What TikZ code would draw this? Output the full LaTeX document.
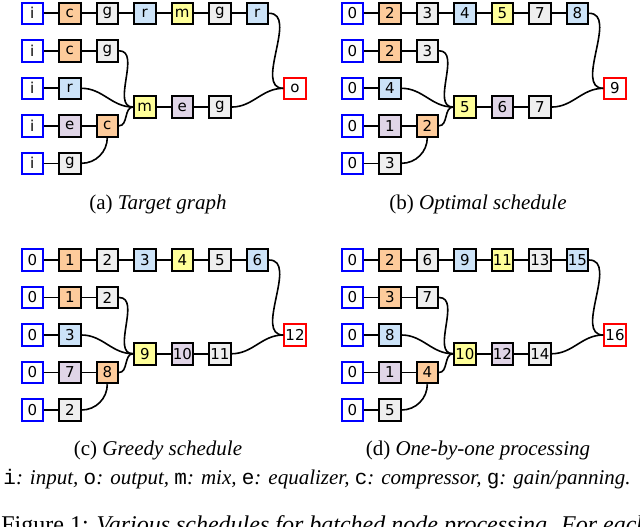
\documentclass[tikz,border=0pt]{standalone}
\usepackage{fontspec}
\setmainfont{Liberation Serif}
\setsansfont{DejaVu Sans}
\setmonofont{Liberation Mono}
\usepackage{tikz}
\usetikzlibrary{positioning}

\definecolor{cmpfill}{HTML}{FDCB9B}
\definecolor{gainfill}{HTML}{EFEFEF}
\definecolor{revfill}{HTML}{CCE3F8}
\definecolor{mixfill}{HTML}{FFFF99}
\definecolor{eqfill}{HTML}{E0D5E7}

\begin{document}
\begin{tikzpicture}[x=1pt, y=1pt, thick,
        node distance=14pt,
        box/.style={rectangle, draw, line width=2pt, minimum size=21.5pt, inner sep=0pt,
            font=\sffamily\fontsize{15}{15}\selectfont},
        in node/.style={box, draw=blue, fill=white},
        out node/.style={box, draw=red, fill=white},
        cmp node/.style={box, fill=cmpfill},
        gain node/.style={box, fill=gainfill},
        rev node/.style={box, fill=revfill},
        mix node/.style={box, fill=mixfill},
        eq node/.style={box, fill=eqfill},
        wire/.style={line width=1.6pt},
        sub caption/.style={anchor=base, font=\fontsize{21}{25}\selectfont}]

    \useasboundingbox (0,0) rectangle (640,-527);
    \clip (0,0) rectangle (640,-527);

    % (a) Target graph
    \begin{scope}
    % Nodes
    \node[in node] (i1) at (32.3,-13.3) {i};
    \node[cmp node] (a1) [right=of i1] {c};
    \node[gain node] (b1) [right=of a1] {g};
    \node[rev node] (c1) [right=of b1] {r};
    \node[mix node] (d1) [right=of c1] {m};
    \node[gain node] (e1) [right=of d1] {g};
    \node[rev node] (f1) [right=of e1] {r};
    \node[in node] (i2) [below=of i1] {i};
    \node[cmp node] (a2) [right=of i2] {c};
    \node[gain node] (b2) [right=of a2] {g};
    \node[in node] (i3) [below=of i2] {i};
    \node[rev node] (a3) [right=of i3] {r};
    \node[in node] (i4) [below=of i3] {i};
    \node[eq node] (a4) [right=of i4] {e};
    \node[cmp node] (b4) [right=of a4] {c};
    \node[in node] (i5) [below=of i4] {i};
    \node[gain node] (a5) [right=of i5] {g};
    \node[mix node] (m) at (144.8,-107.05) {m};
    \node[eq node] (me) [right=of m] {e};
    \node[gain node] (mg) [right=of me] {g};
    \node[out node] (o) at (295,-88.3) {o};
    \node[sub caption] (cap) at (158,-209) {(a) \textit{Target graph}};

    % Edges
    \path[wire]
    (i1) edge (a1) (a1) edge (b1) (b1) edge (c1) (c1) edge (d1) (d1) edge (e1) (e1) edge (f1)
    (i2) edge (a2) (a2) edge (b2)
    (i3) edge (a3)
    (i4) edge (a4) (a4) edge (b4)
    (i5) edge (a5)
    (m) edge (me) (me) edge (mg)
    (b2) edge[out=0, in=180] (m)
    (a3) edge[out=0, in=180] (m)
    (b4) edge[out=0, in=180] (m)
    (a5) edge[out=0, in=-90] (b4)
    (f1) edge[out=0, in=180] (o)
    (mg) edge[out=0, in=180] (o);
    \end{scope}

    % (b) Optimal schedule
    \begin{scope}[shift={(320,0)}]
    % Nodes
    \node[in node] (i1) at (32.3,-13.3) {0};
    \node[cmp node] (a1) [right=of i1] {2};
    \node[gain node] (b1) [right=of a1] {3};
    \node[rev node] (c1) [right=of b1] {4};
    \node[mix node] (d1) [right=of c1] {5};
    \node[gain node] (e1) [right=of d1] {7};
    \node[rev node] (f1) [right=of e1] {8};
    \node[in node] (i2) [below=of i1] {0};
    \node[cmp node] (a2) [right=of i2] {2};
    \node[gain node] (b2) [right=of a2] {3};
    \node[in node] (i3) [below=of i2] {0};
    \node[rev node] (a3) [right=of i3] {4};
    \node[in node] (i4) [below=of i3] {0};
    \node[eq node] (a4) [right=of i4] {1};
    \node[cmp node] (b4) [right=of a4] {2};
    \node[in node] (i5) [below=of i4] {0};
    \node[gain node] (a5) [right=of i5] {3};
    \node[mix node] (m) at (144.8,-107.05) {5};
    \node[eq node] (me) [right=of m] {6};
    \node[gain node] (mg) [right=of me] {7};
    \node[out node] (o) at (295,-88.3) {9};
    \node[sub caption] (cap) at (158,-209) {(b) \textit{Optimal schedule}};

    % Edges
    \path[wire]
    (i1) edge (a1) (a1) edge (b1) (b1) edge (c1) (c1) edge (d1) (d1) edge (e1) (e1) edge (f1)
    (i2) edge (a2) (a2) edge (b2)
    (i3) edge (a3)
    (i4) edge (a4) (a4) edge (b4)
    (i5) edge (a5)
    (m) edge (me) (me) edge (mg)
    (b2) edge[out=0, in=180] (m)
    (a3) edge[out=0, in=180] (m)
    (b4) edge[out=0, in=180] (m)
    (a5) edge[out=0, in=-90] (b4)
    (f1) edge[out=0, in=180] (o)
    (mg) edge[out=0, in=180] (o);
    \end{scope}

    % (c) Greedy schedule
    \begin{scope}[shift={(0,-246.7)}]
    % Nodes
    \node[in node] (i1) at (32.3,-13.3) {0};
    \node[cmp node] (a1) [right=of i1] {1};
    \node[gain node] (b1) [right=of a1] {2};
    \node[rev node] (c1) [right=of b1] {3};
    \node[mix node] (d1) [right=of c1] {4};
    \node[gain node] (e1) [right=of d1] {5};
    \node[rev node] (f1) [right=of e1] {6};
    \node[in node] (i2) [below=of i1] {0};
    \node[cmp node] (a2) [right=of i2] {1};
    \node[gain node] (b2) [right=of a2] {2};
    \node[in node] (i3) [below=of i2] {0};
    \node[rev node] (a3) [right=of i3] {3};
    \node[in node] (i4) [below=of i3] {0};
    \node[eq node] (a4) [right=of i4] {7};
    \node[cmp node] (b4) [right=of a4] {8};
    \node[in node] (i5) [below=of i4] {0};
    \node[gain node] (a5) [right=of i5] {2};
    \node[mix node] (m) at (144.8,-107.05) {9};
    \node[eq node] (me) [right=of m] {10};
    \node[gain node] (mg) [right=of me] {11};
    \node[out node] (o) at (295,-88.3) {12};
    \node[sub caption] (cap) at (158,-209) {(c) \textit{Greedy schedule}};

    % Edges
    \path[wire]
    (i1) edge (a1) (a1) edge (b1) (b1) edge (c1) (c1) edge (d1) (d1) edge (e1) (e1) edge (f1)
    (i2) edge (a2) (a2) edge (b2)
    (i3) edge (a3)
    (i4) edge (a4) (a4) edge (b4)
    (i5) edge (a5)
    (m) edge (me) (me) edge (mg)
    (b2) edge[out=0, in=180] (m)
    (a3) edge[out=0, in=180] (m)
    (b4) edge[out=0, in=180] (m)
    (a5) edge[out=0, in=-90] (b4)
    (f1) edge[out=0, in=180] (o)
    (mg) edge[out=0, in=180] (o);
    \end{scope}

    % (d) One-by-one processing
    \begin{scope}[shift={(320,-246.7)}]
    % Nodes
    \node[in node] (i1) at (32.3,-13.3) {0};
    \node[cmp node] (a1) [right=of i1] {2};
    \node[gain node] (b1) [right=of a1] {6};
    \node[rev node] (c1) [right=of b1] {9};
    \node[mix node] (d1) [right=of c1] {11};
    \node[gain node] (e1) [right=of d1] {13};
    \node[rev node] (f1) [right=of e1] {15};
    \node[in node] (i2) [below=of i1] {0};
    \node[cmp node] (a2) [right=of i2] {3};
    \node[gain node] (b2) [right=of a2] {7};
    \node[in node] (i3) [below=of i2] {0};
    \node[rev node] (a3) [right=of i3] {8};
    \node[in node] (i4) [below=of i3] {0};
    \node[eq node] (a4) [right=of i4] {1};
    \node[cmp node] (b4) [right=of a4] {4};
    \node[in node] (i5) [below=of i4] {0};
    \node[gain node] (a5) [right=of i5] {5};
    \node[mix node] (m) at (144.8,-107.05) {10};
    \node[eq node] (me) [right=of m] {12};
    \node[gain node] (mg) [right=of me] {14};
    \node[out node] (o) at (295,-88.3) {16};
    \node[sub caption] (cap) at (158,-209) {(d) \textit{One-by-one processing}};

    % Edges
    \path[wire]
    (i1) edge (a1) (a1) edge (b1) (b1) edge (c1) (c1) edge (d1) (d1) edge (e1) (e1) edge (f1)
    (i2) edge (a2) (a2) edge (b2)
    (i3) edge (a3)
    (i4) edge (a4) (a4) edge (b4)
    (i5) edge (a5)
    (m) edge (me) (me) edge (mg)
    (b2) edge[out=0, in=180] (m)
    (a3) edge[out=0, in=180] (m)
    (b4) edge[out=0, in=180] (m)
    (a5) edge[out=0, in=-90] (b4)
    (f1) edge[out=0, in=180] (o)
    (mg) edge[out=0, in=180] (o);
    \end{scope}

    % Legend and caption
    \node[anchor=base west, inner sep=0pt, font=\fontsize{21}{25}\selectfont] (legend) at (3,-484)
        {\texttt{i}\textit{: input, }\texttt{o}\textit{: output, }\texttt{m}\textit{: mix, }\texttt{e}\textit{: equalizer, }\texttt{c}\textit{: compressor, }\texttt{g}\textit{: gain/panning.}};
    \node[anchor=base west, inner sep=0pt, font=\fontsize{24}{28}\selectfont] (figcap) at (1,-532)
        {Figure 1: \textit{Various schedules for batched node processing. For each}};

\end{tikzpicture}
\end{document}
